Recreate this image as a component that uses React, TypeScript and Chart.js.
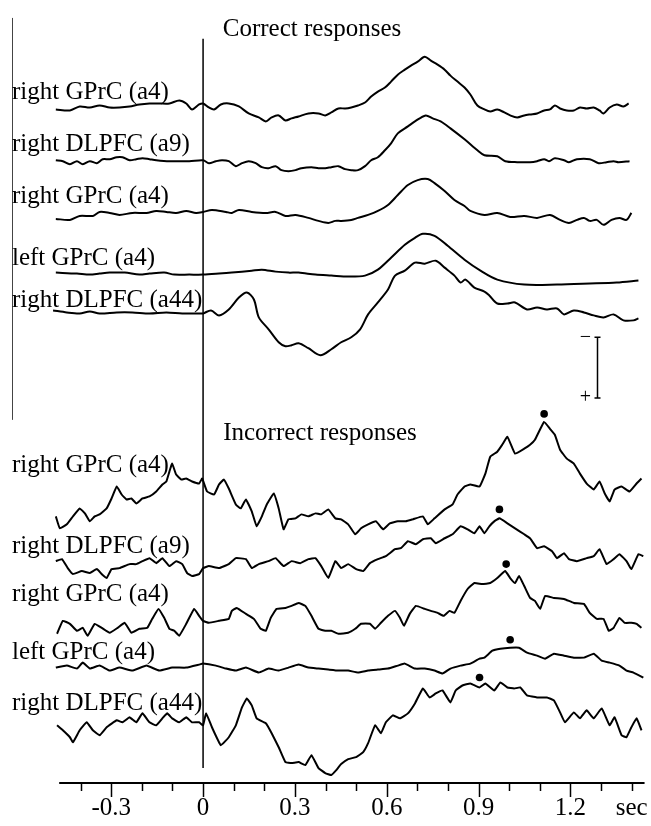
import { useEffect, useRef } from "react";
import { Chart, registerables } from "chart.js";

Chart.register(...registerables);

type Sample = [number, number]; // [time (s), amplitude (a.u., negative up)]

// ---- Correct responses ----
const correctRightGPrC: Sample[] = [
  [-0.481, 2], [-0.435, 3], [-0.403, -1], [-0.37, 0], [-0.338, -2], [-0.305, 0], [-0.273, 0], [-0.24, -1],
  [-0.208, -3], [-0.175, -4], [-0.143, -4], [-0.11, -4], [-0.078, -7], [-0.055, -4], [-0.036, 2], [-0.013, -3],
  [0, -4], [0.019, 0], [0.036, 2], [0.058, -3], [0.084, -4], [0.117, -1], [0.149, 6], [0.182, 10],
  [0.205, 14], [0.224, 10], [0.247, 8], [0.269, 13], [0.289, 11], [0.312, 9], [0.344, 6], [0.377, 6],
  [0.399, 8], [0.419, 5], [0.442, 1], [0.464, 1], [0.484, 0], [0.506, -2], [0.529, -5], [0.549, -11],
  [0.571, -16], [0.594, -20], [0.614, -26], [0.636, -33], [0.659, -38], [0.679, -42], [0.701, -46], [0.724, -51],
  [0.744, -47], [0.766, -43], [0.789, -38], [0.808, -32], [0.831, -26], [0.854, -20], [0.873, -13], [0.896, -2],
  [0.919, 2], [0.938, 4], [0.961, 2], [0.984, 5], [1.003, 8], [1.026, 10], [1.049, 8], [1.068, 7],
  [1.091, 6], [1.114, 3], [1.133, 2], [1.149, -2], [1.166, 1], [1.188, 3], [1.211, 3], [1.231, 0],
  [1.253, 1], [1.276, 0], [1.295, 3], [1.308, 6], [1.328, 0], [1.351, -3], [1.373, -1], [1.39, -4],
];

const correctRightDLPFC9: Sample[] = [
  [-0.481, 0], [-0.458, 1], [-0.435, 4], [-0.412, 1], [-0.393, 4], [-0.37, 1], [-0.347, 3], [-0.328, -1],
  [-0.305, -1], [-0.282, -3], [-0.263, -3], [-0.24, 0], [-0.218, -1], [-0.198, -2], [-0.175, -1], [-0.153, 0],
  [-0.11, 1], [-0.045, 1], [0, 0], [0.019, 3], [0.042, 1], [0.062, 0], [0.084, 1], [0.107, 6],
  [0.127, 3], [0.149, 1], [0.172, 3], [0.192, 7], [0.214, 8], [0.237, 6], [0.256, 10], [0.279, 11],
  [0.302, 10], [0.321, 8], [0.354, 7], [0.377, 8], [0.399, 8], [0.419, 7], [0.442, 6], [0.464, 9],
  [0.484, 10], [0.506, 10], [0.529, 6], [0.549, 0], [0.571, -3], [0.594, -10], [0.614, -17], [0.636, -27],
  [0.669, -34], [0.692, -39], [0.727, -45], [0.75, -42], [0.776, -39], [0.808, -32], [0.854, -21], [0.896, -10],
  [0.919, -5], [0.961, -4], [0.987, 1], [1.026, 2], [1.068, 2], [1.091, 1], [1.114, -1], [1.13, 1],
  [1.149, -2], [1.179, 0], [1.195, 2], [1.221, -1], [1.263, -1], [1.292, 3], [1.318, 2], [1.341, 1],
  [1.357, 2], [1.393, 1],
];

const correctRightGPrC2: Sample[] = [
  [-0.481, 5], [-0.435, 6], [-0.403, 2], [-0.36, 2], [-0.338, -2], [-0.305, -1], [-0.273, 1], [-0.231, -1],
  [-0.185, -1], [-0.153, -3], [-0.12, -2], [-0.088, -1], [-0.055, -3], [-0.023, -1], [0, -2], [0.029, -4],
  [0.075, -2], [0.094, -1], [0.117, -4], [0.159, -2], [0.205, -1], [0.237, -2], [0.269, 2], [0.302, 1],
  [0.344, 4], [0.377, 7], [0.409, 9], [0.432, 7], [0.451, 7], [0.484, 6], [0.506, 4], [0.539, 1],
  [0.571, -3], [0.604, -9], [0.636, -19], [0.669, -29], [0.701, -34], [0.734, -35], [0.756, -31], [0.789, -23],
  [0.821, -14], [0.854, -8], [0.873, -3], [0.919, 1], [0.961, -1], [1.003, 3], [1.049, 2], [1.091, 4],
  [1.133, 1], [1.166, 6], [1.195, 9], [1.221, 6], [1.244, 4], [1.263, 7], [1.286, 6], [1.308, 11],
  [1.334, 6], [1.36, 4], [1.383, 6], [1.399, -1],
];

const correctLeftGPrC: Sample[] = [
  [-0.481, -1], [-0.412, 0], [-0.37, 1], [-0.338, 0], [-0.305, -1], [-0.256, -1], [-0.208, 1], [-0.175, 0],
  [-0.127, -1], [-0.094, 1], [-0.045, 1], [0, 1], [0.052, 0], [0.094, -1], [0.159, -3], [0.192, -4],
  [0.237, -2], [0.279, -1], [0.312, -1], [0.367, 1], [0.419, 2], [0.474, 3], [0.529, 2], [0.571, -4],
  [0.614, -16], [0.659, -29], [0.692, -36], [0.718, -40], [0.756, -38], [0.799, -28], [0.854, -14], [0.906, -3],
  [0.961, 6], [1.049, 11], [1.156, 11], [1.263, 10], [1.351, 9], [1.422, 7],
];

const correctRightDLPFC44: Sample[] = [
  [-0.49, -2], [-0.445, 0], [-0.403, 1], [-0.37, -1], [-0.338, 1], [-0.282, 0], [-0.231, 0], [-0.175, 1],
  [-0.12, 0], [-0.068, 1], [-0.013, 1], [0, 1], [0.026, -2], [0.052, 3], [0.084, -3], [0.117, -15],
  [0.143, -20], [0.166, -13], [0.182, 5], [0.214, 17], [0.247, 30], [0.269, 34], [0.289, 33], [0.312, 31],
  [0.344, 36], [0.383, 43], [0.419, 37], [0.451, 30], [0.484, 25], [0.513, 17], [0.539, 2], [0.571, -10],
  [0.604, -23], [0.627, -37], [0.659, -42], [0.692, -50], [0.724, -49], [0.76, -52], [0.789, -45], [0.821, -37],
  [0.841, -30], [0.857, -33], [0.886, -25], [0.919, -21], [0.935, -17], [0.961, -9], [0.994, -9], [1.019, -10],
  [1.058, -3], [1.091, -5], [1.123, -3], [1.156, -4], [1.179, 2], [1.211, -2], [1.244, 0], [1.276, 3],
  [1.308, 5], [1.341, 2], [1.373, 8], [1.406, 8], [1.422, 6],
];

// ---- Incorrect responses ----
const incorrectRightGPrC: Sample[] = [
  [-0.481, 15], [-0.468, 27], [-0.445, 23], [-0.425, 15], [-0.403, 7], [-0.386, 12], [-0.37, 20], [-0.354, 15],
  [-0.338, 13], [-0.315, 7], [-0.299, -3], [-0.282, -15], [-0.266, -7], [-0.25, -2], [-0.234, -3], [-0.218, 2],
  [-0.198, -3], [-0.175, -5], [-0.153, -10], [-0.133, -17], [-0.12, -20], [-0.11, -30], [-0.101, -38], [-0.088, -27],
  [-0.071, -22], [-0.055, -23], [-0.036, -20], [-0.013, -18], [-0.003, -23], [0.013, -10], [0.036, -7], [0.052, -17],
  [0.068, -22], [0.084, -13], [0.107, 3], [0.123, 7], [0.14, -2], [0.159, 10], [0.175, 25], [0.192, 15],
  [0.208, 3], [0.231, -8], [0.247, 7], [0.263, 28], [0.279, 18], [0.302, 17], [0.321, 13], [0.344, 15],
  [0.367, 12], [0.386, 13], [0.409, 8], [0.432, 17], [0.451, 18], [0.474, 23], [0.497, 33], [0.516, 27],
  [0.539, 23], [0.565, 20], [0.588, 28], [0.61, 22], [0.636, 20], [0.662, 20], [0.685, 18], [0.718, 15],
  [0.734, 23], [0.756, 17], [0.789, 8], [0.815, 3], [0.831, -7], [0.854, -15], [0.873, -17], [0.903, -15],
  [0.922, -28], [0.938, -45], [0.961, -50], [0.977, -57], [0.994, -65], [1.019, -48], [1.049, -53], [1.068, -57],
  [1.084, -62], [1.114, -80], [1.133, -73], [1.149, -67], [1.166, -52], [1.188, -43], [1.211, -38], [1.231, -28],
  [1.253, -18], [1.276, -12], [1.295, -20], [1.312, -8], [1.328, 0], [1.344, -12], [1.367, -15], [1.393, -10],
  [1.416, -18], [1.432, -23],
];

const incorrectRightDLPFC9: Sample[] = [
  [-0.481, -5], [-0.461, -7], [-0.442, 2], [-0.425, 8], [-0.396, 5], [-0.37, 7], [-0.347, 3], [-0.331, 8],
  [-0.315, 12], [-0.299, 3], [-0.273, 2], [-0.24, -2], [-0.218, -2], [-0.198, -5], [-0.175, -8], [-0.153, -3],
  [-0.133, -8], [-0.11, 0], [-0.088, -5], [-0.068, -2], [-0.052, 7], [-0.036, 10], [-0.013, 8], [0, 2],
  [0.019, 0], [0.052, 2], [0.084, -2], [0.107, -8], [0.14, -7], [0.159, 2], [0.182, -2], [0.214, -5],
  [0.237, -8], [0.263, 0], [0.289, -5], [0.318, -3], [0.344, -7], [0.367, -8], [0.386, 0], [0.409, 12],
  [0.432, -5], [0.451, 2], [0.474, -2], [0.5, 3], [0.523, 5], [0.545, -3], [0.571, -7], [0.597, -10],
  [0.627, -17], [0.646, -18], [0.669, -25], [0.695, -22], [0.718, -27], [0.744, -28], [0.76, -23], [0.789, -28],
  [0.815, -32], [0.841, -40], [0.864, -37], [0.886, -33], [0.903, -40], [0.919, -33], [0.935, -40], [0.951, -45],
  [0.968, -48], [0.994, -43], [1.019, -38], [1.049, -32], [1.068, -28], [1.091, -18], [1.114, -20], [1.14, -15],
  [1.156, -8], [1.179, -13], [1.195, -7], [1.221, -5], [1.253, -8], [1.276, -10], [1.295, -17], [1.318, -2],
  [1.341, -7], [1.36, -12], [1.383, -5], [1.399, 3], [1.422, -12], [1.438, -10],
];

const incorrectRightGPrC2: Sample[] = [
  [-0.477, 8], [-0.458, -5], [-0.435, -2], [-0.412, 5], [-0.393, 2], [-0.377, 10], [-0.354, -2], [-0.331, 2],
  [-0.305, 7], [-0.279, 2], [-0.256, -3], [-0.234, 7], [-0.208, 3], [-0.182, 2], [-0.166, -7], [-0.146, -17],
  [-0.127, -8], [-0.11, 3], [-0.094, 5], [-0.078, 10], [-0.055, -2], [-0.029, -17], [-0.013, -10], [0, -5],
  [0.019, -3], [0.052, -5], [0.084, -7], [0.094, -15], [0.11, -18], [0.14, -12], [0.166, -7], [0.188, 3],
  [0.205, 5], [0.221, -8], [0.24, -17], [0.269, -18], [0.289, -20], [0.312, -23], [0.334, -20], [0.354, -10],
  [0.377, 3], [0.399, 5], [0.419, 5], [0.442, 8], [0.474, 7], [0.497, 3], [0.516, -2], [0.545, -2],
  [0.562, 3], [0.581, -3], [0.604, -10], [0.627, -15], [0.643, -8], [0.656, 0], [0.675, -12], [0.695, -20],
  [0.724, -17], [0.744, -15], [0.766, -13], [0.786, -10], [0.805, -15], [0.821, -13], [0.841, -25], [0.864, -37],
  [0.886, -43], [0.912, -42], [0.938, -43], [0.961, -48], [0.987, -55], [1.003, -48], [1.019, -43], [1.032, -50],
  [1.049, -40], [1.068, -28], [1.084, -25], [1.101, -17], [1.117, -30], [1.146, -28], [1.179, -27], [1.211, -23],
  [1.244, -22], [1.263, -13], [1.286, -7], [1.308, -7], [1.325, 5], [1.341, 2], [1.36, -8], [1.377, -3],
  [1.399, -3], [1.416, -2], [1.432, 2],
];

const incorrectLeftGPrC: Sample[] = [
  [-0.481, 0], [-0.445, -2], [-0.412, 1], [-0.393, -5], [-0.37, 1], [-0.338, -2], [-0.305, 3], [-0.273, 0],
  [-0.231, 3], [-0.185, -2], [-0.143, 3], [-0.101, 0], [-0.055, 0], [-0.013, -3], [0, -4], [0.042, -2],
  [0.075, 1], [0.107, 3], [0.14, 0], [0.182, 5], [0.214, 1], [0.247, 3], [0.279, 0], [0.312, -3],
  [0.344, 0], [0.377, 1], [0.409, 2], [0.442, 3], [0.474, 3], [0.506, 5], [0.539, 3], [0.571, 2],
  [0.604, 1], [0.636, -2], [0.659, -4], [0.692, 1], [0.724, 1], [0.756, 3], [0.782, 6], [0.808, 1],
  [0.841, -2], [0.873, -4], [0.903, -9], [0.919, -10], [0.945, -17], [0.971, -19], [1.003, -20], [1.032, -20],
  [1.058, -15], [1.091, -12], [1.117, -9], [1.146, -14], [1.179, -12], [1.211, -10], [1.244, -10], [1.276, -14],
  [1.302, -7], [1.328, -5], [1.36, -2], [1.383, 3], [1.406, 5], [1.438, 10],
];

const incorrectRightDLPFC44: Sample[] = [
  [-0.477, 3], [-0.458, 8], [-0.435, 15], [-0.425, 20], [-0.403, 8], [-0.38, 0], [-0.36, 8], [-0.338, 13],
  [-0.315, 5], [-0.282, -2], [-0.263, 0], [-0.24, -5], [-0.218, 0], [-0.198, -9], [-0.175, 0], [-0.153, 3],
  [-0.133, -4], [-0.117, -9], [-0.101, -4], [-0.078, 0], [-0.055, -5], [-0.036, 0], [-0.013, 0], [0, 3],
  [0.01, -9], [0.029, 5], [0.058, 23], [0.084, 15], [0.107, 3], [0.127, -15], [0.143, -24], [0.159, -17],
  [0.175, -4], [0.205, 1], [0.224, 11], [0.247, 25], [0.269, 40], [0.289, 41], [0.312, 40], [0.334, 43],
  [0.354, 33], [0.377, 46], [0.399, 51], [0.419, 53], [0.435, 48], [0.451, 42], [0.474, 37], [0.5, 35],
  [0.523, 30], [0.539, 21], [0.562, 3], [0.581, 11], [0.597, 0], [0.62, -7], [0.643, -4], [0.669, -9],
  [0.692, -19], [0.718, -34], [0.74, -25], [0.76, -29], [0.782, -32], [0.808, -20], [0.825, -32], [0.847, -37],
  [0.873, -39], [0.903, -35], [0.922, -39], [0.951, -32], [0.971, -40], [0.994, -35], [1.016, -34], [1.036, -35],
  [1.058, -27], [1.091, -25], [1.123, -25], [1.146, -22], [1.166, -10], [1.182, 0], [1.211, -10], [1.231, -4],
  [1.253, -12], [1.276, -4], [1.302, -14], [1.328, 3], [1.344, -5], [1.367, 13], [1.383, 15], [1.399, 5],
  [1.416, -4], [1.432, 8],
];

// Peak latencies (s) and amplitudes of the incorrect-response markers
const peakTimes = [1.114, 0.968, 0.99, 1.003, 0.903];
const peakValues = [-88, -57, -62, -28, -45];

const traceNames = ["right GPrC (a4)", "right DLPFC (a9)", "right GPrC (a4)", "left GPrC (a4)", "right DLPFC (a44)"];
const sectionTitles = ["Correct responses", "Incorrect responses"];
const timeTicks = [-0.4, -0.3, -0.2, -0.1, 0, 0.1, 0.2, 0.3, 0.4, 0.5, 0.6, 0.7, 0.8, 0.9, 1.0, 1.1, 1.2, 1.3, 1.4];
const scaleBarAmplitude = 61;

const series = [
  correctRightGPrC, correctRightDLPFC9, correctRightGPrC2, correctLeftGPrC, correctRightDLPFC44,
  incorrectRightGPrC, incorrectRightDLPFC9, incorrectRightGPrC2, incorrectLeftGPrC, incorrectRightDLPFC44,
];

// Layout (vertical stacking, in the chart's y units)
const traceBaselines = [104, 157, 211, 271, 310, 500, 565, 625, 667, 722];
const labelBaselines = [95, 148, 200, 262, 305, 470, 552, 600, 658, 710];
const titleBaselines = [32, 438];
const FONT = '"Liberation Serif", "Times New Roman", serif';

const overlayPlugin = {
  id: "overlay",
  beforeDatasetsDraw(chart: any) {
    const { ctx } = chart;
    const x = chart.scales.x;
    const y = chart.scales.y;
    ctx.save();
    ctx.strokeStyle = "#000";
    ctx.lineCap = "butt";

    // stimulus onset line
    const x0 = x.getPixelForValue(0);
    ctx.lineWidth = 1.5;
    ctx.beginPath();
    ctx.moveTo(x0, y.getPixelForValue(35));
    ctx.lineTo(x0, y.getPixelForValue(768));
    ctx.stroke();

    // bracket line at the left of the correct-response block
    ctx.strokeStyle = "#444";
    ctx.lineWidth = 1;
    ctx.beginPath();
    ctx.moveTo(12.5, y.getPixelForValue(14));
    ctx.lineTo(12.5, y.getPixelForValue(418));
    ctx.stroke();

    // time axis line and tick marks
    const axisY = chart.chartArea.bottom;
    ctx.strokeStyle = "#000";
    ctx.lineWidth = 2;
    ctx.beginPath();
    ctx.moveTo(x.getPixelForValue(-0.47), axisY);
    ctx.lineTo(x.getPixelForValue(1.442), axisY);
    ctx.stroke();
    ctx.lineWidth = 1.5;
    for (const t of timeTicks) {
      const n = Math.round(t * 10);
      const len = n % 3 === 0 ? 14 : 8;
      const px = Math.round(x.getPixelForValue(t)) + 0.5;
      ctx.beginPath();
      ctx.moveTo(px, axisY);
      ctx.lineTo(px, axisY + len);
      ctx.stroke();
    }

    // amplitude scale bar
    const sbX = Math.round(x.getPixelForValue(1.286)) + 0.5;
    const sbTop = y.getPixelForValue(335);
    const sbBottom = y.getPixelForValue(335 + scaleBarAmplitude);
    ctx.lineWidth = 1.5;
    ctx.beginPath();
    ctx.moveTo(sbX, sbTop);
    ctx.lineTo(sbX, sbBottom);
    ctx.moveTo(sbX - 3, sbTop);
    ctx.lineTo(sbX + 3, sbTop);
    ctx.moveTo(sbX - 3, sbBottom);
    ctx.lineTo(sbX + 3, sbBottom);
    ctx.stroke();

    ctx.fillStyle = "#000";
    ctx.font = `20px ${FONT}`;
    ctx.textAlign = "center";
    ctx.textBaseline = "middle";
    ctx.fillText("\u2212", sbX - 12, sbTop);
    ctx.fillText("+", sbX - 12, sbBottom);

    // titles and trace labels
    ctx.font = `25px ${FONT}`;
    ctx.textBaseline = "alphabetic";
    ctx.textAlign = "center";
    ctx.fillText(sectionTitles[0], 312, y.getPixelForValue(titleBaselines[0]));
    ctx.fillText(sectionTitles[1], 320, y.getPixelForValue(titleBaselines[1]));
    ctx.textAlign = "left";
    labelBaselines.forEach((b, i) => {
      ctx.fillText(traceNames[i % 5], 12, y.getPixelForValue(b));
    });
    ctx.restore();
  },
};

export default function App() {
  const canvasRef = useRef<HTMLCanvasElement | null>(null);

  useEffect(() => {
    const canvas = canvasRef.current;
    if (!canvas) return;

    const lineSets = series.map((s, i) => ({
      type: "line" as const,
      data: s.map(([t, v]) => ({ x: t, y: traceBaselines[i] + v })),
      borderColor: "#000",
      borderWidth: 2,
      pointRadius: 0,
      tension: i < 5 ? 0.3 : 0.1,
      fill: false,
      clip: false as any,
    }));

    const peakSet = {
      type: "line" as const,
      data: peakTimes.map((t, i) => ({ x: t, y: traceBaselines[5 + i] + peakValues[i] })),
      showLine: false,
      pointRadius: 3.8,
      pointBackgroundColor: "#000",
      pointBorderWidth: 0,
      clip: false as any,
    };

    const chart = new Chart(canvas, {
      type: "line",
      data: { datasets: [...lineSets, peakSet] as any },
      options: {
        responsive: false,
        animation: false,
        devicePixelRatio: 1,
        layout: { padding: { left: 50, right: 0, top: 0, bottom: 0 } },
        plugins: { legend: { display: false }, tooltip: { enabled: false } },
        events: [],
        scales: {
          x: {
            type: "linear",
            min: -0.5,
            max: 1.45,
            grid: { display: false, drawTicks: false },
            border: { display: false },
            afterBuildTicks: (scale: any) => {
              scale.ticks = timeTicks.map((value) => ({ value }));
            },
            afterFit: (scale: any) => {
              scale.height = 43;
              scale.paddingLeft = 0;
              scale.paddingRight = 0;
            },
            ticks: {
              autoSkip: false,
              maxRotation: 0,
              minRotation: 0,
              padding: 10,
              color: "#000",
              font: { family: FONT, size: 25 },
              callback: (v: any) => {
                const n = Math.round(Number(v) * 10);
                if (n === 14) return "sec";
                if (n % 3 === 0) return n === 0 ? "0" : String(n / 10);
                return "";
              },
            },
          },
          y: {
            type: "linear",
            display: false,
            min: 0,
            max: 783,
            reverse: true,
          },
        },
      },
      plugins: [overlayPlugin],
    });

    return () => chart.destroy();
  }, []);

  return (
    <div style={{ position: "absolute", left: 0, top: 0, width: 651, height: 826, background: "#fff" }}>
      <canvas ref={canvasRef} width={651} height={826} />
    </div>
  );
}
